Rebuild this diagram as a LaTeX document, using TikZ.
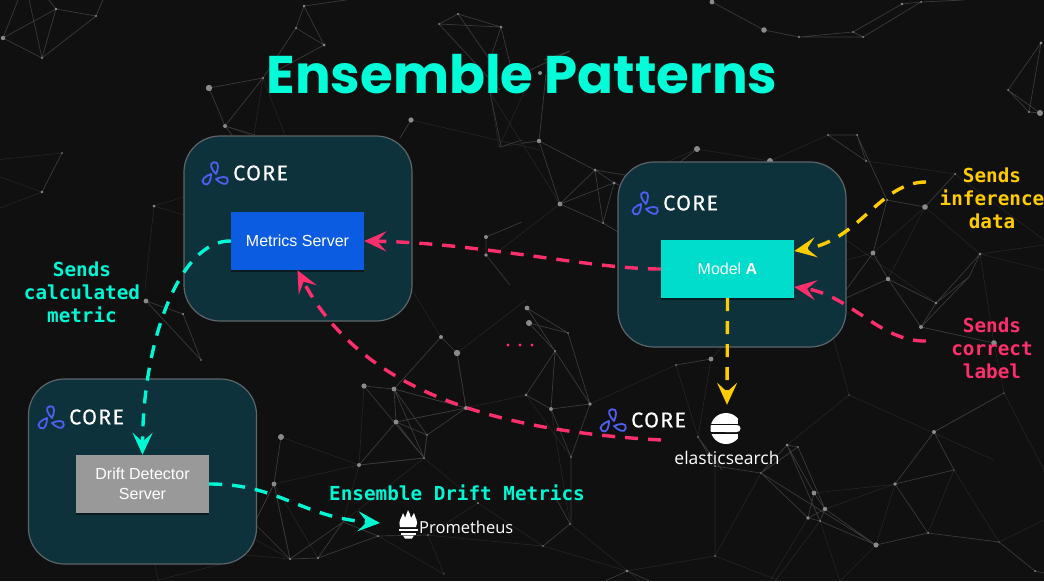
\documentclass[tikz,border=0pt]{standalone}
\usepackage{fontspec}
\usetikzlibrary{positioning,arrows.meta,shadows}
\setmainfont{Liberation Sans}
\newfontfamily\titlefont{Poppins}
\newfontfamily\codefont{DejaVu Sans Mono}
\newfontfamily\corefont[LetterSpace=6,FakeBold=0.3]{Fira Sans}
\newfontfamily\logofont{Open Sans}
\definecolor{bgdark}{HTML}{101010}
\definecolor{boxteal}{HTML}{0D323C}
\definecolor{boxedge}{HTML}{5C6668}
\definecolor{flowcyan}{HTML}{00F7D4}
\definecolor{titlecyan}{HTML}{00FFD8}
\definecolor{flowpink}{HTML}{FF2E6C}
\definecolor{flowyellow}{HTML}{FFCC00}
\definecolor{logoblue}{HTML}{4F5FF2}
\definecolor{netstrong}{HTML}{3A3A3A}
\definecolor{netfaint}{HTML}{252525}
\definecolor{netdotc}{HTML}{8A8A8A}
\definecolor{metricsblue}{HTML}{0B5CE0}
\definecolor{modelteal}{HTML}{00DDCC}
\definecolor{driftgray}{HTML}{999999}

\begin{document}
\begin{tikzpicture}[x=1pt, y=-1pt, font=\fontsize{16}{20}\selectfont, >=Stealth,
  corebox/.style={draw=boxedge, line width=1.2pt, fill=boxteal, rounded corners=36pt, minimum width=228pt, minimum height=185pt},
  servbox/.style={minimum width=133pt, minimum height=58pt, align=center, text=white, inner sep=0pt,
    drop shadow={shadow xshift=0pt, shadow yshift=-1.5pt, opacity=0.45, fill=black}},
  corelabel/.style={font=\corefont\fontsize{21.5}{21.5}\selectfont, text=white, inner sep=0pt},
  flowtext/.style={font=\codefont\bfseries\fontsize{19.3}{23}\selectfont, align=center, inner sep=0pt},
  flow/.style={line width=3.4pt, dash pattern=on 13pt off 10pt, -{Stealth[length=22pt, width=20pt, inset=9pt]}},
  netline/.style={draw=netstrong, line width=0.7pt},
  netback/.style={draw=netfaint, line width=0.6pt},
  corelogo/.pic={
    \foreach \a/\sx/\sy in {100/2/2, 235/-3/2, -10/2/7}
      \draw[logoblue, line width=1.8pt, line join=round, shift={(\sx,\sy)}, rotate=\a]
        (0,0) .. controls (4,-3) and (12,-6) .. (12,0) .. controls (12,6) and (4,3) .. (0,0) -- cycle;
  }]
  \path[fill=bgdark, use as bounding box] (0,0) rectangle (1044,581);

  % faint web
  \path[netback] (42,192) -- (-5,175) (42,192) -- (-5,210) (62,153) -- (-5,160)
    (154,206) -- (184,197) (154,206) -- (145,290) (154,206) -- (184,215)
    (263,78) -- (285,135) (263,78) -- (254,135) (225,126) -- (250,135)
    (411,120) -- (540,150) (499,147) -- (490,92) (499,147) -- (525,90) (499,147) -- (539,141)
    (560,204) -- (490,92) (560,204) -- (500,250) (697,149) -- (660,165)
    (770,161) -- (828,135) (770,161) -- (697,149) (866,161) -- (955,174) (955,174) -- (1044,240)
    (873,253) -- (925,207) (888,279) -- (925,207) (925,207) -- (980,254) (980,254) -- (1044,245)
    (980,254) -- (1044,270) (980,254) -- (994,343) (846,240) -- (936,303) (846,260) -- (873,253)
    (834,340) -- (849,395) (849,395) -- (994,460) (849,395) -- (787,445) (1004,393) -- (934,432)
    (994,343) -- (1004,393) (1004,393) -- (1044,470) (954,470) -- (999,542) (954,470) -- (928,533)
    (895,484) -- (876,545) (876,545) -- (840,581) (999,542) -- (1044,520)
    (676,365) -- (698,437) (711,359) -- (698,437) (676,365) -- (590,404) (711,359) -- (728,340)
    (715,466) -- (715,556) (761,473) -- (715,556) (715,556) -- (627,571) (715,556) -- (780,581)
    (820,521) -- (775,581) (808,518) -- (770,581) (820,521) -- (840,581) (814,493) -- (898,484)
    (825,509) -- (895,484) (543,546) -- (627,571) (570,524) -- (640,581) (543,546) -- (478,503)
    (426,535) -- (543,546) (428,535) -- (444,574) (378,536) -- (444,574) (478,503) -- (424,458)
    (478,503) -- (428,535) (457,353) -- (466,408) (466,408) -- (526,395) (457,353) -- (526,300)
    (281,437) -- (359,465) (359,465) -- (274,484) (359,465) -- (424,458) (364,386) -- (359,465)
    (394,389) -- (466,408) (396,422) -- (466,408) (427,435) -- (424,458) (424,458) -- (478,503)
    (343,522) -- (359,465) (343,522) -- (424,458) (274,484) -- (290,559) (274,484) -- (318,558)
    (256,540) -- (290,559) (245,555) -- (290,559) (158,580) -- (155,564) (158,580) -- (230,562)
    (412,290) -- (441,337) (551,409) -- (570,524) (526,395) -- (571,457);
  % stronger web
  \path[netline] (3,38) -- (56,9) -- (96,16) -- (42,58) -- (3,38) (56,9) -- (42,58) (3,38) -- (20,-5)
    (28,-5) -- (42,58) (56,9) -- (45,-5) (96,16) -- (105,-5)
    (304,6) -- (296,28) -- (324,45) -- (304,6) (324,45) -- (278,70) (296,28) -- (263,78) (304,6) -- (360,-2)
    (209,88) -- (263,78) -- (225,126) -- (209,88) (225,126) -- (255,135) (225,126) -- (232,135)
    (411,120) -- (400,138) (42,192) -- (62,153)
    (439,24) -- (458,14) -- (501,27) -- (439,24) (458,14) -- (490,60) (501,27) -- (490,60) (501,27) -- (514,80)
    (439,24) -- (500,90) (490,92) -- (501,146) (500,147) -- (522,140) (539,141) -- (560,204)
    (539,141) -- (522,143) (570,51) -- (520,75) (570,51) -- (544,60) (546,74) -- (539,141)
    (595,170) -- (560,204) -- (603,223) -- (614,183) -- (595,170) -- (603,223) (560,204) -- (614,183)
    (539,141) -- (595,170) (595,170) -- (625,175) (603,223) -- (618,232) (614,183) -- (632,190)
    (697,149) -- (680,162)
    (712,2) -- (764,30) -- (799,37) -- (853,32) -- (902,4) -- (921,2) -- (964,0) (799,37) -- (863,37) -- (853,32)
    (863,37) -- (921,2) (853,32) -- (902,4)
    (1041,43) -- (1008,90) -- (1029,112) -- (1040,113) -- (1008,90) (1041,43) -- (1029,112)
    (828,135) -- (857,135) -- (866,161) -- (828,135) (857,135) -- (887,200) -- (925,207) -- (955,174)
    (887,200) -- (873,253) -- (888,279) -- (936,303) -- (921,327) -- (888,279) (980,254) -- (936,303) -- (969,277)
    (980,254) -- (969,277) -- (921,327) (921,327) -- (994,343) (873,253) -- (846,290) (888,279) -- (846,298)
    (486,237) -- (486,255) (486,255) -- (510,285) (486,237) -- (522,222)
    (146,301) -- (183,314) -- (201,360) (146,301) -- (201,360)
    (281,437) -- (274,484) -- (256,520) (274,484) -- (290,559) -- (318,558) -- (343,522) -- (290,559)
    (256,525) -- (290,559) (318,558) -- (378,536) -- (428,535) (378,536) -- (343,522)
    (364,386) -- (394,389) -- (396,422) -- (427,435) -- (424,458) -- (396,422) (364,386) -- (424,458)
    (394,389) -- (427,435) (394,389) -- (424,458) (359,465) -- (396,422) (359,465) -- (424,458)
    (441,337) -- (457,353) -- (466,408) (441,337) -- (394,389) (394,389) -- (466,408) -- (427,435) (396,422) -- (466,408)
    (527,308) -- (568,333) -- (590,404) -- (555,351) -- (529,323) -- (568,333) (529,323) -- (555,351) (527,308) -- (555,351)
    (555,351) -- (526,395) -- (551,409) -- (590,404) (555,351) -- (551,409) (590,404) -- (571,457) -- (571,524)
    (571,457) -- (551,409) (570,524) -- (543,546) (557,500) -- (570,524) (627,571) -- (650,581) (627,571) -- (605,581)
    (676,365) -- (711,359) (698,437) -- (715,466) -- (761,473) (698,437) -- (722,470)
    (761,473) -- (787,445) -- (798,447) -- (761,473) (787,445) -- (814,493) -- (825,509) -- (808,518) -- (814,493)
    (798,447) -- (825,509) (787,445) -- (820,521) (761,473) -- (808,518) (761,473) -- (876,545)
    (808,518) -- (820,521) -- (825,509) (820,521) -- (876,545) (825,509) -- (876,545) (876,545) -- (928,533) -- (999,542)
    (895,484) -- (928,533) (895,484) -- (954,470) (895,484) -- (934,432) -- (954,470) (934,432) -- (1004,393)
    (999,542) -- (1035,571) (1035,571) -- (1044,573);

  \foreach \x/\y/\r in {3/38/2.2, 56/9/1.3, 96/16/1.2, 42/58/1.2, 304/6/1.3, 296/28/1.2, 324/45/1.5, 209/88/3.2,
      263/78/1.2, 225/126/2, 411/120/2.6, 42/192/1.4, 154/206/1.5, 62/153/0.8, 458/14/1.2, 501/27/1.3, 439/24/1,
      539/141/2.2, 560/204/2.4, 595/170/1.5, 614/183/1.5, 603/223/1, 540/73/2, 697/149/3, 770/161/3,
      712/2/2.4, 764/30/2.8, 799/37/1.2, 853/32/1, 863/37/1, 902/4/1.3, 921/2/1, 1041/43/1.7, 1008/90/1,
      1029/112/1.2, 1040/113/3, 828/135/1, 857/135/1, 866/161/1, 887/200/1, 925/207/2.8, 955/174/1, 873/253/2.4,
      888/279/2.2, 980/254/1.4, 936/303/1.4, 921/327/2, 994/343/2.8, 486/237/2, 486/255/1.8, 146/301/2.4,
      183/314/1.2, 201/360/0.8, 281/437/3, 274/484/2.4, 290/559/1.2, 318/558/1.1, 378/536/1, 428/535/0.8,
      444/574/0.6, 478/503/1, 359/465/2, 424/458/1, 427/435/0.8, 396/422/2.4, 394/389/2.4, 364/386/2.6, 457/353/3.2,
      441/337/2, 466/408/2, 527/308/2.4, 529/323/3, 568/333/0.8, 555/351/1.2, 526/395/1.3, 590/404/1.8, 551/409/2,
      571/457/0.9, 570/524/0.9, 543/546/0.9, 627/571/1.4, 676/365/0.9, 711/359/2.4, 698/437/0.9, 715/466/1,
      761/473/0.8, 787/445/1.5, 798/447/0.8, 814/493/2.4, 825/509/2.2, 808/518/1.9, 820/521/1, 876/545/2.6, 895/484/1.8,
      928/533/1, 954/470/0.7, 934/432/2, 849/395/0.7, 1004/393/0.7, 999/542/0.7, 715/556/0.8, 1035/571/1}
    \fill[netdotc] (\x,\y) circle (\r);

  \node[font=\titlefont\bfseries\fontsize{53}{53}\selectfont, text=titlecyan, inner sep=0pt] (title) at (522,74) {Ensemble Patterns};

  \node[corebox] (coreA) at (298,228.5) {};
  \node[corebox] (coreB) at (732,254.5) {};
  \node[corebox] (coreC) at (142.5,471.5) {};

  \node[servbox, fill=metricsblue] (metrics) at (297.5,241) {Metrics Server};
  \node[servbox, fill=modelteal] (modela) at (727.5,269) {Model \textbf{A}};
  \node[servbox, fill=driftgray] (drift) at (142.5,484) {Drift Detector\\Server};

  \node[corelabel, anchor=west] (coreAtext) at (233,173) {CORE};
  \node[corelabel, anchor=west] (coreBtext) at (663,203) {CORE};
  \node[corelabel, anchor=west] (coreCtext) at (69,417) {CORE};
  \node[corelabel, anchor=west] (coreDtext) at (631,420) {CORE};
  \pic at (214,172) {corelogo};
  \pic at (644,202) {corelogo};
  \pic at (50,416) {corelogo};
  \pic at (612,419) {corelogo};

  \node[flowtext, text=flowcyan] (sendsmetric) at (82,292) {Sends\\calculated\\metric};
  \node[flowtext, text=flowyellow] (sendsdata) at (992,198) {Sends\\inference\\data};
  \node[flowtext, text=flowpink] (sendslabel) at (992,348) {Sends\\correct\\label};
  \node[flowtext, text=flowcyan] (driftmetrics) at (457,493) {Ensemble Drift Metrics};

  % logos
  \node[minimum size=48pt, inner sep=0pt] (eslogo) at (727,429) {};
  \begin{scope}
    \clip (726,428.5) circle (15.5);
    \fill[white] (710,412) rectangle (738,423.5);
    \fill[white] (710,434) rectangle (738,446);
    \fill[white] (708,425) rectangle (730,432);
  \end{scope}
  \fill[white, rounded corners=3.4pt] (722,425) rectangle (740.5,432);
  \node[text=white, inner sep=0pt, font=\logofont\fontsize{17.5}{18}\selectfont] (estext) at (727,458) {elasticsearch};

  \fill[white] (400,527) .. controls (398,520) and (402,518) .. (403,513) .. controls (404,516) and (405,516) .. (405,518)
    .. controls (406,515) and (407,513) .. (408,510) .. controls (409,513) and (411,515) .. (411,518)
    .. controls (412,516) and (413,515) .. (414,513) .. controls (415,518) and (419,521) .. (416,527) -- cycle;
  \fill[white] (399,528.5) rectangle (418,531);
  \fill[white] (401,532.5) rectangle (416,534.5);
  \fill[white] (403,535.5) -- (414,535.5) -- (412,538.5) -- (405,538.5) -- cycle;
  \node[text=white, inner sep=0pt, anchor=west, font=\logofont\fontsize{16.5}{18}\selectfont] (promtext) at (419,527) {Prometheus};

  \coordinate (promin) at (380,523);
  \coordinate (coredash) at (661,440);
  \coordinate (datafrom) at (926,182);
  \coordinate (labelfrom) at (926,341);

  % flows
  \draw[flow, flowpink] (modela.west) .. controls (590,269) and (480,243) .. (metrics.east);
  \draw[flow, flowpink] (coredash) .. controls (516,432) and (365,400) .. (metrics.south);
  \draw[flow, flowpink] (labelfrom) .. controls (880,342) and (850,295) .. ([yshift=-18pt]modela.east);
  \draw[flow, flowyellow] (datafrom) .. controls (880,182) and (860,240) .. ([yshift=18pt]modela.east);
  \draw[flow, flowyellow] (modela.south) -- (eslogo.north);
  \draw[flow, flowcyan] (metrics.west) .. controls (180,240) and (143,340) .. (drift.north);
  \draw[flow, flowcyan] (drift.east) .. controls (280,484) and (300,517) .. (promin);

  \foreach \x in {508,520,532}
    \fill[flowpink] (\x,345) circle (1.6);
\end{tikzpicture}
\end{document}
